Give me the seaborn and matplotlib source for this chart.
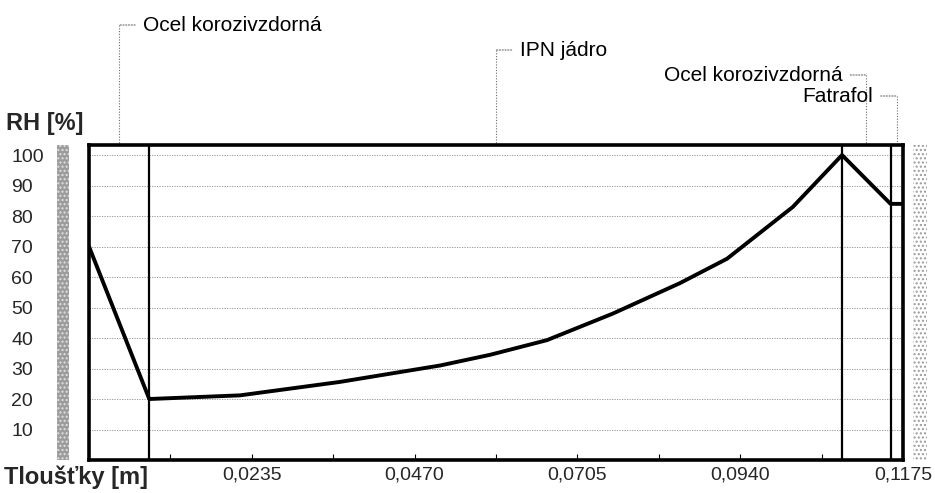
import matplotlib
matplotlib.use("Agg")
import matplotlib.pyplot as plt
import seaborn as sns
import numpy as np
import pandas as pd
from matplotlib import transforms, font_manager
from matplotlib.patches import Rectangle

# Relative humidity profile through the wall (thickness in metres, RH in %)
thickness_m = [0.0, 0.0087, 0.0218, 0.0362, 0.0507, 0.0579, 0.0661, 0.0756,
               0.0853, 0.0921, 0.1016, 0.1087, 0.1157, 0.1175]
rh_percent = [70, 20, 21.2, 25.6, 31, 34.5, 39.3, 48, 58, 66, 83, 100, 84, 84]

# Layer build-up: names and boundaries
layer_names = ["Ocel korozivzdorná", "IPN jádro", "Ocel korozivzdorná", "Fatrafol"]
layer_edges = [0.0, 0.0087, 0.1087, 0.1157, 0.1175]

x_ticks = [0.0235, 0.0470, 0.0705, 0.0940, 0.1175]
x_tick_labels = ["0,0235", "0,0470", "0,0705", "0,0940", "0,1175"]
y_ticks = [10, 20, 30, 40, 50, 60, 70, 80, 90, 100]
y_tick_labels = [str(v) for v in y_ticks]

sns.set_theme(style="white")
plt.rcParams["font.family"] = ["Liberation Sans", "DejaVu Sans"]

installed = {f.name for f in font_manager.fontManager.ttflist}
if "Liberation Sans Narrow" in installed:
    NARROW = ["Liberation Sans Narrow", "Liberation Sans", "DejaVu Sans"]
    tick_fs, layer_fs = 15.5, 17
else:
    NARROW = ["Liberation Sans", "DejaVu Sans"]
    tick_fs, layer_fs = 14, 15

W, H = 935, 493
fig = plt.figure(figsize=(W / 100, H / 100), dpi=100)
ax_l, ax_r, ax_t, ax_b = 89, 903, 145, 460
ax = fig.add_axes([ax_l / W, 1 - ax_b / H, (ax_r - ax_l) / W, (ax_b - ax_t) / H])

# horizontal dotted grid
for v in y_ticks:
    ax.axhline(v, color="#8c8c8c", lw=0.6, ls=(0, (1.5, 1.5)), zorder=1)

# layer boundaries
for e in layer_edges[1:-1]:
    ax.axvline(e, color="black", lw=1.6, zorder=2)

df = pd.DataFrame({"t": thickness_m, "rh": rh_percent})
sns.lineplot(data=df, x="t", y="rh", sort=False, estimator=None,
             color="black", lw=2.8, ax=ax, zorder=3)

ax.set_xlim(layer_edges[0], layer_edges[-1])
ax.set_ylim(0, 103.3)
ax.set_xlabel("")
ax.set_ylabel("")

ax.set_xticks(x_ticks)
ax.set_xticklabels(x_tick_labels, family=NARROW)
ax.set_xticks(np.arange(1, 10) * 0.01175, minor=True)
ax.tick_params(axis="x", which="both", direction="in", length=4, width=0.8,
               color="black", labelsize=tick_fs, pad=5, bottom=True)
ax.set_yticks(y_ticks)
ax.set_yticklabels(y_tick_labels, family=NARROW)
ax.tick_params(axis="y", which="both", length=0, labelsize=tick_fs, pad=56)
for lab in ax.get_yticklabels():
    lab.set_ha("left")

for s in ax.spines.values():
    s.set_visible(True)
    s.set_color("black")
    s.set_linewidth(2.6)

# layer labels with dotted leaders
text_y_px = [25, 50, 75, 96]
side = [1, 1, -1, -1]
to_axes = lambda ypx: (ax_b - ypx) / (ax_b - ax_t)
xt = ax.get_xaxis_transform()
for i, name in enumerate(layer_names):
    mid = (layer_edges[i] + layer_edges[i + 1]) / 2
    yy = to_axes(text_y_px[i])
    ax.plot([mid, mid], [yy, 1.0], transform=xt, clip_on=False,
            color="#6a6a6a", lw=0.8, ls=(0, (1, 1.5)))
    ax.annotate("", xy=(mid, yy), xycoords=xt, xytext=(side[i] * 16, 0),
                textcoords="offset pixels",
                arrowprops=dict(arrowstyle="-", color="#6a6a6a", lw=0.8,
                                ls=(0, (1, 1.5)), shrinkA=0, shrinkB=0))
    off = transforms.offset_copy(xt, fig=fig, x=side[i] * 24 * 0.72, units="points")
    ax.text(mid, yy, name, transform=off, fontsize=layer_fs, family=NARROW,
            ha="left" if side[i] > 0 else "right", va="center", color="black")

# axis titles
fig.text(6 / W, 1 - 124 / H, "RH [%]", fontsize=17, fontweight="bold",
         ha="left", va="center")
fig.text(4 / W, 1 - 477 / H, "Tloušťky [m]", fontsize=17, fontweight="bold",
         ha="left", va="center")

# textured side bars
fig.add_artist(Rectangle((57 / W, 1 - ax_b / H), 12 / W, (ax_b - ax_t) / H,
                         transform=fig.transFigure, facecolor="#9c9c9c",
                         edgecolor="#e0e0e0", hatch="....", lw=0))
fig.add_artist(Rectangle((913 / W, 1 - ax_b / H), 14 / W, (ax_b - ax_t) / H,
                         transform=fig.transFigure, facecolor="white",
                         edgecolor="#9a9a9a", hatch="....", lw=0))

fig.savefig("out.png", dpi=100)
